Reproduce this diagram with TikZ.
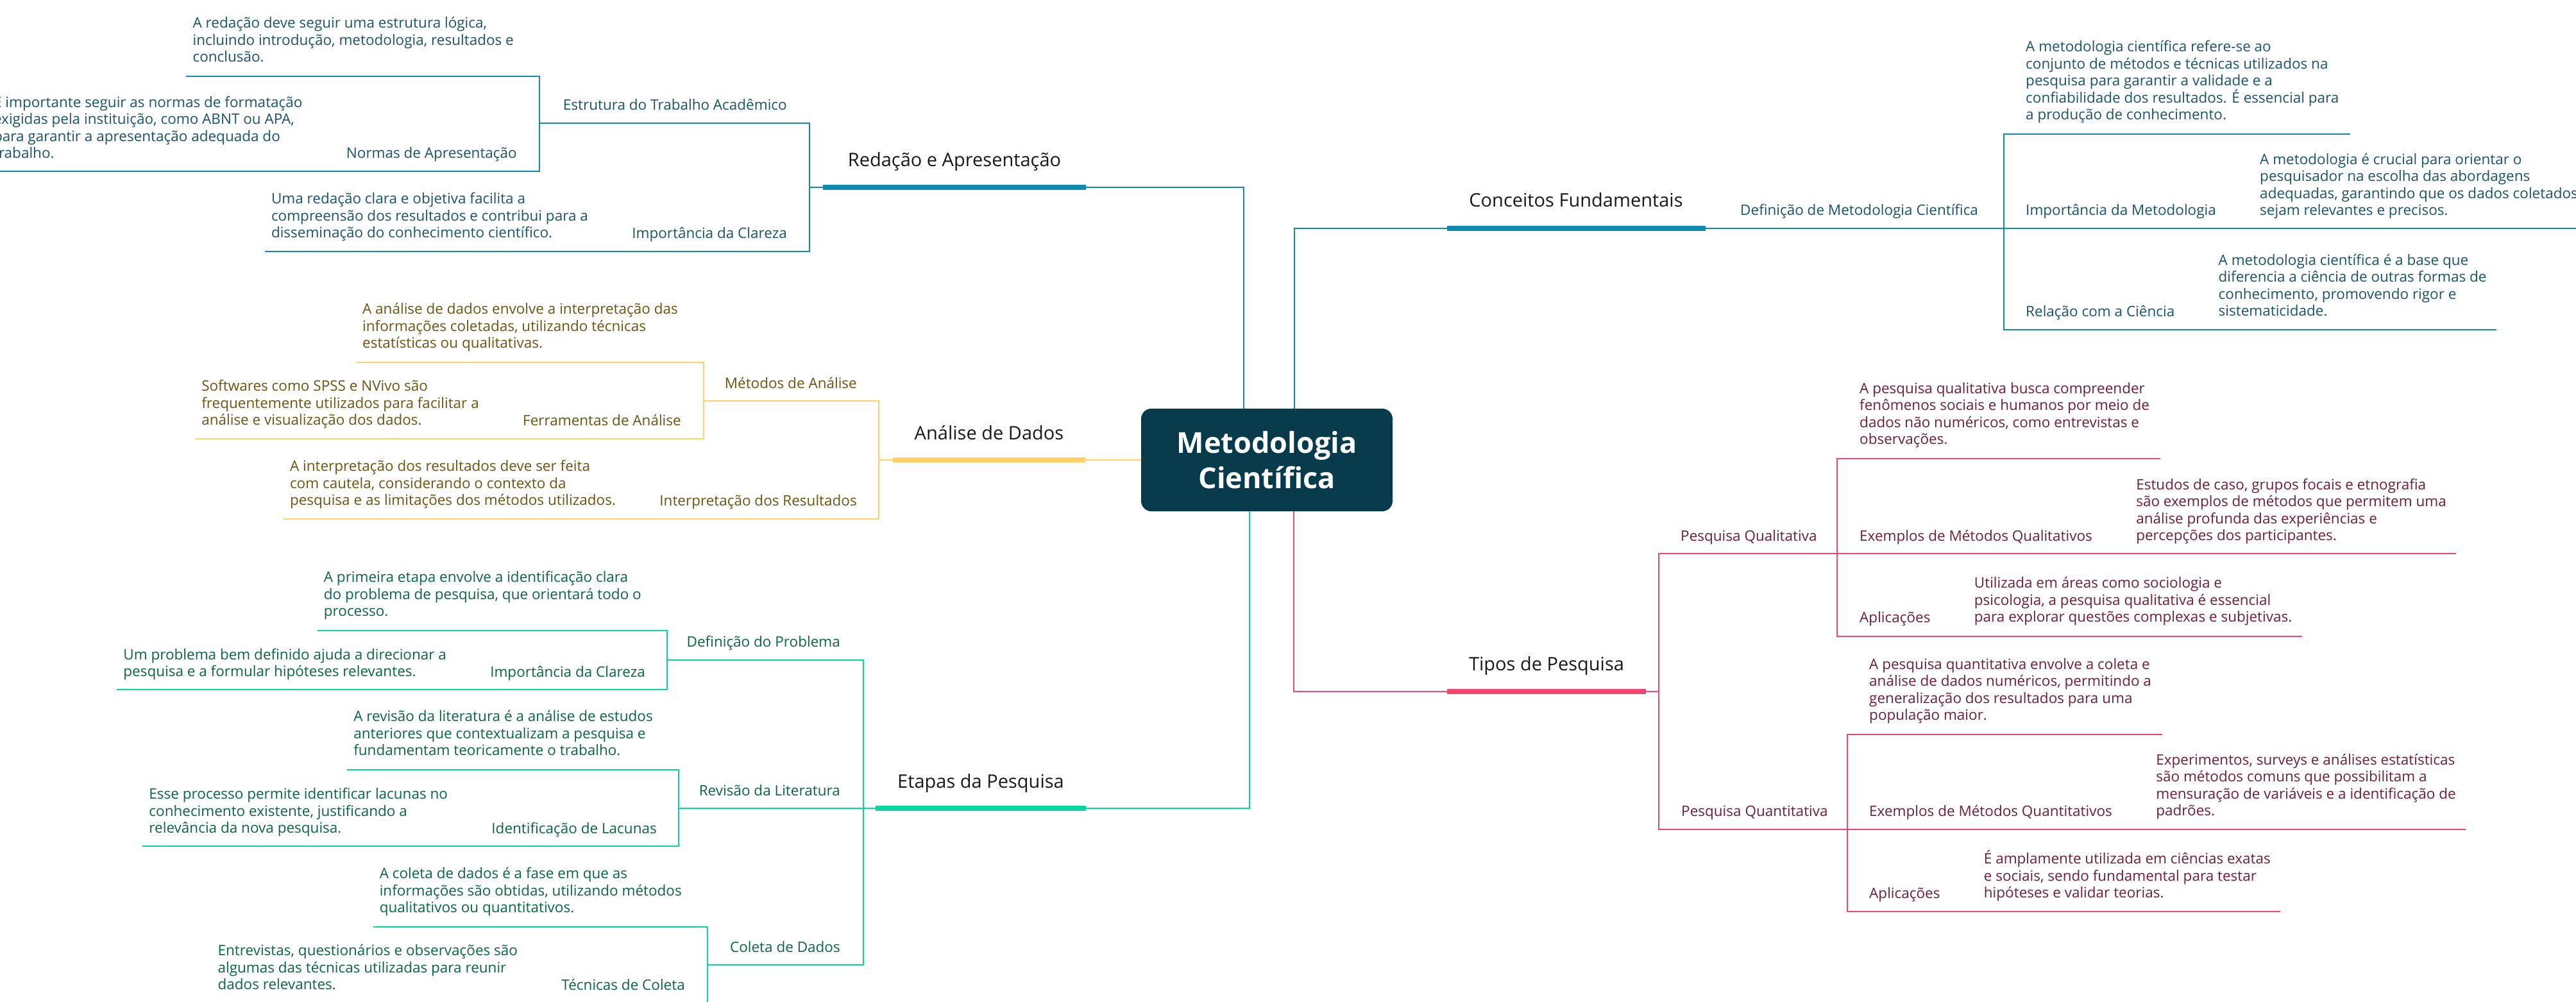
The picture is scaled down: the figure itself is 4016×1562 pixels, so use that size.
\documentclass[tikz,border=0pt]{standalone}
\usepackage{fontspec}
\setmainfont{Open Sans}
\usepackage{tikz}
\usetikzlibrary{positioning}

\definecolor{rootc}{HTML}{073B4C}
\definecolor{cblue}{HTML}{118AB2}
\definecolor{cyel}{HTML}{FFD166}
\definecolor{cgrn}{HTML}{06D6A0}
\definecolor{cpnk}{HTML}{EF476F}
\definecolor{tblue}{HTML}{1A5468}
\definecolor{tyel}{HTML}{6E5310}
\definecolor{tgrn}{HTML}{0A6446}
\definecolor{tpnk}{HTML}{6E1E38}

\begin{document}
\begin{tikzpicture}[x=1pt, y=-1pt,
  root/.style={fill=rootc, rounded corners=16pt, text=white, font=\fontsize{45}{55}\selectfont\bfseries, align=center, minimum width=392pt, minimum height=160pt, inner sep=0pt},
  topic/.style={font=\fontsize{29}{35}\selectfont, text=black!90, anchor=base, inner sep=0pt},
  sub/.style={font=\fontsize{22.5}{26.6}\selectfont, inner sep=0pt},
  leaf/.style={font=\fontsize{22.5}{26.6}\selectfont, inner sep=0pt, align=left, execute at begin node=\strut, execute at end node=\strut},
  ln/.style={line width=2.4pt},
  bar/.style={line width=8pt}]
\useasboundingbox (0,0) rectangle (4016,1562);
\fill[white] (0,0) rectangle (4016,1562);
\clip (0,0) rectangle (4016,1562);

\node[root] (root) at (1975,717) {Metodologia\\Científica};

% Redação e Apresentação
\node[topic] (red) at (1488,260) {Redação e Apresentação};
\draw[bar,cblue] (1283,292) coordinate (redL) -- (1693,292) coordinate (redR);
\draw[ln,cblue] (redR) -| ([xshift=-36pt]root.north);
\coordinate (redJ) at (1262,292);
\draw[ln,cblue] (redL) -- (redJ);
\node[sub,text=tblue,anchor=base east] (est) at (1227,172) {Estrutura do Trabalho Acadêmico};
\coordinate (estJ) at (841,192);
\draw[ln,cblue] (redJ) |- (estJ);
\node[leaf,text=tblue,anchor=south east] (estT) at (801,105) {A redação deve seguir uma estrutura lógica,\\incluindo introdução, metodologia, resultados e\\conclusão.};
\coordinate (estA) at (841,119);
\draw[ln,cblue] (estJ) -- (estA) -- (estA -| estT.west) -- ++(-10,0);
\node[sub,text=tblue,anchor=base east] (nrm) at (806,247) {Normas de Apresentação};
\node[leaf,text=tblue,anchor=south east] (nrmT) at ([xshift=-68pt,yshift=-8pt]nrm.base west) {É importante seguir as normas de formatação\\exigidas pela instituição, como ABNT ou APA,\\para garantir a apresentação adequada do\\trabalho.};
\coordinate (nrmJ) at (841,267);
\draw[ln,cblue] (estJ) -- (nrmJ) -- (nrmJ -| nrmT.west) -- ++(-10,0);
\node[sub,text=tblue,anchor=base east] (icl) at (1227,371) {Importância da Clareza};
\node[leaf,text=tblue,anchor=south east] (iclT) at ([xshift=-68pt,yshift=-8pt]icl.base west) {Uma redação clara e objetiva facilita a\\compreensão dos resultados e contribui para a\\disseminação do conhecimento científico.};
\coordinate (iclJ) at (1262,392);
\draw[ln,cblue] (redJ) -- (iclJ) -- (iclJ -| iclT.west) -- ++(-10,0);

% Análise de Dados
\node[topic] (ana) at (1542,685) {Análise de Dados};
\draw[bar,cyel] (1392,717) coordinate (anaL) -- (1692,717) coordinate (anaR);
\draw[ln,cyel] (anaR) -- (root.west);
\coordinate (anaJ) at (1370,717);
\draw[ln,cyel] (anaL) -- (anaJ);
\node[sub,text=tyel,anchor=base east] (met) at (1336,605) {Métodos de Análise};
\coordinate (metJ) at (1097,625);
\draw[ln,cyel] (anaJ) |- (metJ);
\node[leaf,text=tyel,anchor=south east] (metT) at (1057,551) {A análise de dados envolve a interpretação das\\informações coletadas, utilizando técnicas\\estatísticas ou qualitativas.};
\coordinate (metA) at (1097,565);
\draw[ln,cyel] (metJ) -- (metA) -- (metA -| metT.west) -- ++(-10,0);
\node[sub,text=tyel,anchor=base east] (fer) at (1062,663) {Ferramentas de Análise};
\node[leaf,text=tyel,anchor=south east] (ferT) at ([xshift=-68pt,yshift=-8pt]fer.base west) {Softwares como SPSS e NVivo são\\frequentemente utilizados para facilitar a\\análise e visualização dos dados.};
\coordinate (ferJ) at (1097,684);
\draw[ln,cyel] (metJ) -- (ferJ) -- (ferJ -| ferT.west) -- ++(-10,0);
\node[sub,text=tyel,anchor=base east] (itr) at (1336,788) {Interpretação dos Resultados};
\node[leaf,text=tyel,anchor=south east] (itrT) at ([xshift=-68pt,yshift=-8pt]itr.base west) {A interpretação dos resultados deve ser feita\\com cautela, considerando o contexto da\\pesquisa e as limitações dos métodos utilizados.};
\coordinate (itrJ) at (1370,809);
\draw[ln,cyel] (anaJ) -- (itrJ) -- (itrJ -| itrT.west) -- ++(-10,0);

% Etapas da Pesquisa
\node[topic] (eta) at (1529,1228) {Etapas da Pesquisa};
\draw[bar,cgrn] (1365,1260) coordinate (etaL) -- (1693,1260) coordinate (etaR);
\draw[ln,cgrn] (etaR) -| ([xshift=-27pt]root.south);
\coordinate (etaJ) at (1346,1260);
\draw[ln,cgrn] (etaL) -- (etaJ);
\node[sub,text=tgrn,anchor=base east] (def) at (1310,1008) {Definição do Problema};
\coordinate (defJ) at (1040,1029);
\draw[ln,cgrn] (etaJ) |- (defJ);
\node[leaf,text=tgrn,anchor=south east] (defT) at (1000,969) {A primeira etapa envolve a identificação clara\\do problema de pesquisa, que orientará todo o\\processo.};
\coordinate (defA) at (1040,983);
\draw[ln,cgrn] (defJ) -- (defA) -- (defA -| defT.west) -- ++(-10,0);
\node[sub,text=tgrn,anchor=base east] (ic2) at (1006,1055) {Importância da Clareza};
\node[leaf,text=tgrn,anchor=south east] (ic2T) at ([xshift=-68pt,yshift=-8pt]ic2.base west) {Um problema bem definido ajuda a direcionar a\\pesquisa e a formular hipóteses relevantes.};
\coordinate (ic2J) at (1040,1075);
\draw[ln,cgrn] (defJ) -- (ic2J) -- (ic2J -| ic2T.west) -- ++(-10,0);
\node[sub,text=tgrn,anchor=base east] (rev) at (1310,1240) {Revisão da Literatura};
\coordinate (revJ) at (1058,1260);
\draw[ln,cgrn] (etaJ) -- (revJ);
\node[leaf,text=tgrn,anchor=south east] (revT) at (1018,1186) {A revisão da literatura é a análise de estudos\\anteriores que contextualizam a pesquisa e\\fundamentam teoricamente o trabalho.};
\coordinate (revA) at (1058,1200);
\draw[ln,cgrn] (revJ) -- (revA) -- (revA -| revT.west) -- ++(-10,0);
\node[sub,text=tgrn,anchor=base east] (lac) at (1024,1299) {Identificação de Lacunas};
\node[leaf,text=tgrn,anchor=south east] (lacT) at ([xshift=-68pt,yshift=-8pt]lac.base west) {Esse processo permite identificar lacunas no\\conhecimento existente, justificando a\\relevância da nova pesquisa.};
\coordinate (lacJ) at (1058,1319);
\draw[ln,cgrn] (revJ) -- (lacJ) -- (lacJ -| lacT.west) -- ++(-10,0);
\node[sub,text=tgrn,anchor=base east] (col) at (1310,1484) {Coleta de Dados};
\coordinate (colJ) at (1103,1504);
\draw[ln,cgrn] (etaJ) |- (colJ);
\node[leaf,text=tgrn,anchor=south east] (colT) at (1063,1431) {A coleta de dados é a fase em que as\\informações são obtidas, utilizando métodos\\qualitativos ou quantitativos.};
\coordinate (colA) at (1103,1445);
\draw[ln,cgrn] (colJ) -- (colA) -- (colA -| colT.west) -- ++(-10,0);
\node[sub,text=tgrn,anchor=base east] (tec) at (1068,1543) {Técnicas de Coleta};
\node[leaf,text=tgrn,anchor=south east] (tecT) at ([xshift=-68pt,yshift=-8pt]tec.base west) {Entrevistas, questionários e observações são\\algumas das técnicas utilizadas para reunir\\dados relevantes.};
\coordinate (tecJ) at (1103,1564);
\draw[ln,cgrn] (colJ) -- (tecJ) -- (tecJ -| tecT.west) -- ++(-10,0);

% Conceitos Fundamentais
\node[topic] (con) at (2457,323) {Conceitos Fundamentais};
\draw[bar,cblue] (2256,356) coordinate (conL) -- (2659,356) coordinate (conR);
\draw[ln,cblue] (conL) -| ([xshift=43pt]root.north);
\node[sub,text=tblue,anchor=base west] (dmc) at (2713,336) {Definição de Metodologia Científica};
\coordinate (dmcJ) at (3124,356);
\draw[ln,cblue] (conR) -- (dmcJ);
\node[leaf,text=tblue,anchor=south west] (dmcT) at (3158,195) {A metodologia científica refere-se ao\\conjunto de métodos e técnicas utilizados na\\pesquisa para garantir a validade e a\\confiabilidade dos resultados. É essencial para\\a produção de conhecimento.};
\coordinate (dmcA) at (3124,209);
\draw[ln,cblue] (dmcJ) -- (dmcA) -- (dmcA -| dmcT.east) -- ++(17,0);
\node[sub,text=tblue,anchor=base west] (imp) at (3158,336) {Importância da Metodologia};
\node[leaf,text=tblue,anchor=south west] (impT) at ([xshift=68pt,yshift=-8pt]imp.base east) {A metodologia é crucial para orientar o\\pesquisador na escolha das abordagens\\adequadas, garantindo que os dados coletados\\sejam relevantes e precisos.};
\draw[ln,cblue] (dmcJ) -- (dmcJ -| impT.east) -- ++(15,0);
\node[sub,text=tblue,anchor=base west] (rel) at (3158,493) {Relação com a Ciência};
\node[leaf,text=tblue,anchor=south west] (relT) at ([xshift=68pt,yshift=-8pt]rel.base east) {A metodologia científica é a base que\\diferencia a ciência de outras formas de\\conhecimento, promovendo rigor e\\sistematicidade.};
\coordinate (relJ) at (3124,514);
\draw[ln,cblue] (dmcJ) -- (relJ) -- (relJ -| relT.east) -- ++(15,0);

% Tipos de Pesquisa
\node[topic] (tip) at (2411,1045) {Tipos de Pesquisa};
\draw[bar,cpnk] (2256,1078) coordinate (tipL) -- (2566,1078) coordinate (tipR);
\draw[ln,cpnk] (tipL) -| ([xshift=42pt]root.south);
\coordinate (tipJ) at (2586,1078);
\draw[ln,cpnk] (tipR) -- (tipJ);
\node[sub,text=tpnk,anchor=base west] (qul) at (2620,843) {Pesquisa Qualitativa};
\coordinate (qulJ) at (2864,863);
\draw[ln,cpnk] (tipJ) |- (qulJ);
\node[leaf,text=tpnk,anchor=south west] (qulT) at (2899,701) {A pesquisa qualitativa busca compreender\\fenômenos sociais e humanos por meio de\\dados não numéricos, como entrevistas e\\observações.};
\coordinate (qulA) at (2864,715);
\draw[ln,cpnk] (qulJ) -- (qulA) -- (qulA -| qulT.east) -- ++(17,0);
\node[sub,text=tpnk,anchor=base west] (exq) at (2899,843) {Exemplos de Métodos Qualitativos};
\node[leaf,text=tpnk,anchor=south west] (exqT) at ([xshift=68pt,yshift=-8pt]exq.base east) {Estudos de caso, grupos focais e etnografia\\são exemplos de métodos que permitem uma\\análise profunda das experiências e\\percepções dos participantes.};
\draw[ln,cpnk] (qulJ) -- (qulJ -| exqT.east) -- ++(15,0);
\node[sub,text=tpnk,anchor=base west] (apq) at (2899,970) {Aplicações};
\node[leaf,text=tpnk,anchor=south west] (apqT) at ([xshift=68pt,yshift=-8pt]apq.base east) {Utilizada em áreas como sociologia e\\psicologia, a pesquisa qualitativa é essencial\\para explorar questões complexas e subjetivas.};
\coordinate (apqJ) at (2864,992);
\draw[ln,cpnk] (qulJ) -- (apqJ) -- (apqJ -| apqT.east) -- ++(15,0);
\node[sub,text=tpnk,anchor=base west] (qun) at (2621,1272) {Pesquisa Quantitativa};
\coordinate (qunJ) at (2880,1293);
\draw[ln,cpnk] (tipJ) |- (qunJ);
\node[leaf,text=tpnk,anchor=south west] (qunT) at (2914,1131) {A pesquisa quantitativa envolve a coleta e\\análise de dados numéricos, permitindo a\\generalização dos resultados para uma\\população maior.};
\coordinate (qunA) at (2880,1145);
\draw[ln,cpnk] (qunJ) -- (qunA) -- (qunA -| qunT.east) -- ++(17,0);
\node[sub,text=tpnk,anchor=base west] (exn) at (2914,1272) {Exemplos de Métodos Quantitativos};
\node[leaf,text=tpnk,anchor=south west] (exnT) at ([xshift=68pt,yshift=-8pt]exn.base east) {Experimentos, surveys e análises estatísticas\\são métodos comuns que possibilitam a\\mensuração de variáveis e a identificação de\\padrões.};
\draw[ln,cpnk] (qunJ) -- (qunJ -| exnT.east) -- ++(15,0);
\node[sub,text=tpnk,anchor=base west] (apn) at (2914,1400) {Aplicações};
\node[leaf,text=tpnk,anchor=south west] (apnT) at ([xshift=68pt,yshift=-8pt]apn.base east) {É amplamente utilizada em ciências exatas\\e sociais, sendo fundamental para testar\\hipóteses e validar teorias.};
\coordinate (apnJ) at (2880,1421);
\draw[ln,cpnk] (qunJ) -- (apnJ) -- (apnJ -| apnT.east) -- ++(15,0);
\end{tikzpicture}
\end{document}
